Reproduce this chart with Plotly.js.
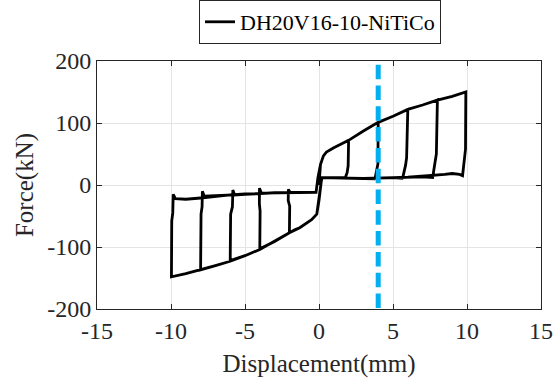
<!DOCTYPE html>
<html>
<head>
<meta charset="utf-8">
<script src="https://cdn.plot.ly/plotly-3.0.1.min.js"></script>
<style>
  html, body { margin: 0; padding: 0; background: #ffffff; }
  #chart { width: 553px; height: 378px; }
</style>
</head>
<body>
<div id="chart"></div>
<script>
// ---- Data ----
const seriesName = "DH20V16-10-NiTiCo";

// Cycle with 2 mm amplitude (displacement mm, force kN)
const cycle2X = [0, 0.05, 0.1, 0.3, 0.5, 1, 1.5, 2, 1.97, 1.9, 1.78, 1.2, 0.5, 0.2, 0.15, 0, -0.15, -0.5, -1, -1.3, -1.6, -2, -1.98, -2.08, -2.07, -1.95, -1, -0.2];
const cycle2Y = [0, 15, 33, 47, 53, 60, 66, 72, 31, 20, 12, 11.5, 12, 12, 5, -25, -47, -56, -64, -69, -72, -77, -34, -25, -7, -12, -12, -12];

// Cycle with 4 mm amplitude
const cycle4X = [-0.07, 0.1, 0.3, 0.5, 1, 2, 3, 4, 3.98, 3.92, 3.8, 3.75, 3, 2, 1, 0.2, 0.15, 0, -0.15, -0.5, -1, -1.3, -2, -3, -4, -3.98, -4.03, -4.02, -3.9, -3, -2, -1, -0.2];
const cycle4Y = [12, 33, 47, 53, 60, 72, 87, 101, 34, 25, 12, 10, 10.5, 11, 11.5, 12, 5, -25, -47, -56, -64, -69, -77, -91, -103, -42, -30, -5, -13, -12.5, -12, -12, -12];

// Cycle with 6 mm amplitude
const cycle6X = [-0.07, 0.1, 0.3, 0.5, 1, 2, 3, 4, 5, 6, 5.92, 5.85, 5.68, 5.62, 5, 4, 3, 2, 1, 0.2, 0.15, 0, -0.15, -0.5, -1, -1.3, -2, -3, -4, -5, -6, -5.97, -5.85, -5.82, -5.7, -5, -4, -3, -2, -1, -0.2];
const cycle6Y = [12, 33, 47, 53, 60, 72, 87, 101, 111, 122, 44, 32, 14, 11, 12, 11, 10.5, 11, 11.5, 12, 5, -25, -47, -56, -64, -69, -77, -91, -104, -114, -122, -47, -35, -8, -16, -15, -13.5, -12.5, -12, -12, -12];

// Cycle with 8 mm amplitude
const cycle8X = [-0.07, 0.1, 0.3, 0.5, 1, 2, 3, 4, 5, 6, 7, 8, 7.93, 7.85, 7.72, 7.68, 7, 6, 5, 4, 3, 2, 1, 0.2, 0.15, 0, -0.15, -0.5, -1, -1.3, -2, -3, -4, -5, -6, -7, -8, -7.97, -7.9, -7.88, -7.75, -7, -6, -5, -4, -3, -2, -1, -0.2];
const cycle8Y = [12, 33, 47, 53, 60, 72, 87, 101, 111, 122, 129, 137, 50, 38, 16, 12, 13, 12, 11.5, 11, 10.5, 11, 11.5, 12, 5, -25, -47, -56, -64, -69, -77, -91, -104, -114, -123, -130, -137, -47, -35, -10, -18, -17, -16, -14.5, -13.5, -12.5, -12, -12, -12];

// Cycle with 10 mm amplitude
const cycle10X = [-0.07, 0.1, 0.3, 0.5, 1, 2, 3, 4, 5, 6, 7, 8, 9, 9.92, 9.9, 9.85, 9.75, 9.7, 9.5, 9, 8.5, 8, 7, 6, 5, 4, 3, 2, 1, 0.2, 0.15, 0, -0.15, -0.5, -1, -1.3, -2, -3, -4, -5, -6, -7, -8, -9, -9.97, -9.95, -9.88, -9.85, -9.7, -9, -8, -7, -6, -5, -4, -3, -2, -1, -0.2, -0.07];
const cycle10Y = [12, 33, 47, 53, 60, 72, 87, 101, 111, 122, 129, 137, 143, 150, 58, 45, 20, 15, 17, 18.5, 17, 16, 14, 12.5, 12, 11, 10.5, 11, 11.5, 12, 5, -25, -47, -56, -64, -69, -77, -91, -104, -114, -123, -130, -137, -143, -148, -58, -45, -15, -22, -23, -21, -18, -16, -14.5, -13.5, -12.5, -12, -12, -12, 12];

// Vertical marker line at 4 mm
const markerX = [4, 4];
const markerY = [194, -200];

// Axis ticks
const xTickVals = [-15, -10, -5, 0, 5, 10, 15];
const xTickText = ["-15", "-10", "-5", "0", "5", "10", "15"];
const yTickVals = [-200, -100, 0, 100, 200];
const yTickText = ["-200", "-100", "0", "100", "200"];

// ---- Build traces ----
const allX = [].concat(cycle2X, cycle4X, cycle6X, cycle8X, cycle10X);
const allY = [].concat(cycle2Y, cycle4Y, cycle6Y, cycle8Y, cycle10Y);

const FONT = "Liberation Serif, Times New Roman, serif";
const AX = "#262626";

const traces = [
  {
    x: allX, y: allY, type: "scatter", mode: "lines", name: seriesName,
    line: { color: "#000000", width: 2.8 }
  },
  {
    x: markerX, y: markerY, type: "scatter", mode: "lines", showlegend: false,
    line: { color: "#00B0F0", width: 5, dash: "14.5px,6.3px" }, hoverinfo: "skip"
  }
];

const axisCommon = {
  ticks: "inside", ticklen: 5, tickwidth: 1, tickcolor: AX,
  showline: true, linecolor: AX, linewidth: 1, mirror: "ticks",
  showgrid: true, gridcolor: "#e4e4e4", gridwidth: 1, zeroline: false,
  automargin: false,
  tickfont: { family: FONT, size: 24, color: AX }
};

const layout = {
  width: 553, height: 378,
  margin: { l: 97, r: 12, t: 61, b: 69, autoexpand: false },
  paper_bgcolor: "#ffffff", plot_bgcolor: "#ffffff",
  showlegend: true,
  legend: {
    xref: "container", yref: "container",
    x: 0.5787, xanchor: "center", y: 1.0, yanchor: "top",
    bordercolor: AX, borderwidth: 1, bgcolor: "#ffffff",
    font: { family: FONT, size: 22, color: "#000000" }
  },
  xaxis: Object.assign({}, axisCommon, {
    range: [-15, 15], tickmode: "array", tickvals: xTickVals, ticktext: xTickText,
    title: { text: "Displacement(mm)", font: { family: FONT, size: 25, color: AX }, standoff: 13 }
  }),
  yaxis: Object.assign({}, axisCommon, {
    range: [-200, 200], tickmode: "array", tickvals: yTickVals, ticktext: yTickText,
    title: { text: "Force(kN)", font: { family: FONT, size: 25, color: AX }, standoff: 6 }
  })
};

Plotly.newPlot("chart", traces, layout, { staticPlot: true, displayModeBar: false });
</script>
</body>
</html>
